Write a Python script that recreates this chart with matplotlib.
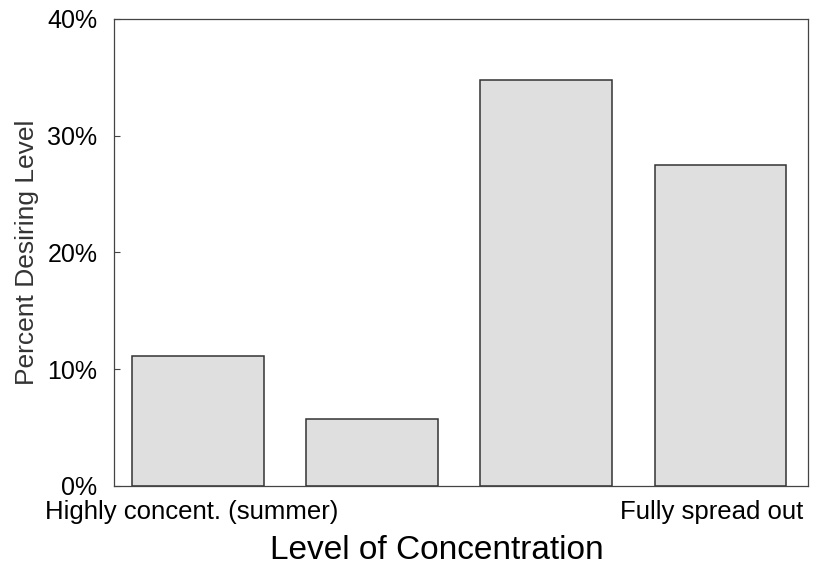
import matplotlib
matplotlib.use('Agg')
import matplotlib.pyplot as plt
from matplotlib.ticker import FuncFormatter
from matplotlib.transforms import ScaledTranslation

plt.rcParams['font.family'] = ['Liberation Sans', 'DejaVu Sans']

# -- data --
levels = ['Highly concent. (summer)', '', '', 'Fully spread out']
pct    = [11.1, 5.75, 34.8, 27.5]
yticks = [0, 10, 20, 30, 40]

fig = plt.figure(figsize=(8.15, 5.73), dpi=100)
ax = fig.add_axes([0.140, 0.152, 0.851, 0.815])

x = list(range(len(pct)))
ax.bar(x, pct, width=0.755, color='#dfdfdf', edgecolor='#333333', linewidth=1.1)

ax.set_xlim(-0.48, 3.5)
ax.set_ylim(0, 40)
ax.set_yticks(yticks)
ax.yaxis.set_major_formatter(FuncFormatter(lambda v, p: '%d%%' % v))
ax.set_xticks(x)
ax.set_xticklabels(levels, fontsize=18.5)
ax.tick_params(axis='x', length=0, pad=10)
ax.tick_params(axis='y', direction='in', length=4, width=0.8, labelsize=18,
               color='#444444', pad=12)

# nudge the category labels to where the scan has them
lbl = ax.get_xticklabels()[3]
lbl.set_transform(lbl.get_transform() + ScaledTranslation(-0.09, 0, fig.dpi_scale_trans))
lbl0 = ax.get_xticklabels()[0]
lbl0.set_transform(lbl0.get_transform() + ScaledTranslation(-0.06, 0, fig.dpi_scale_trans))

for sp in ax.spines.values():
    sp.set_edgecolor('#444444')
    sp.set_linewidth(0.9)

ax.set_ylabel('Percent Desiring Level', fontsize=19, color='#333333', labelpad=6)
ax.set_xlabel('Level of Concentration', fontsize=24, labelpad=8, x=0.465)

fig.savefig('out.png', dpi=100, facecolor='white')
